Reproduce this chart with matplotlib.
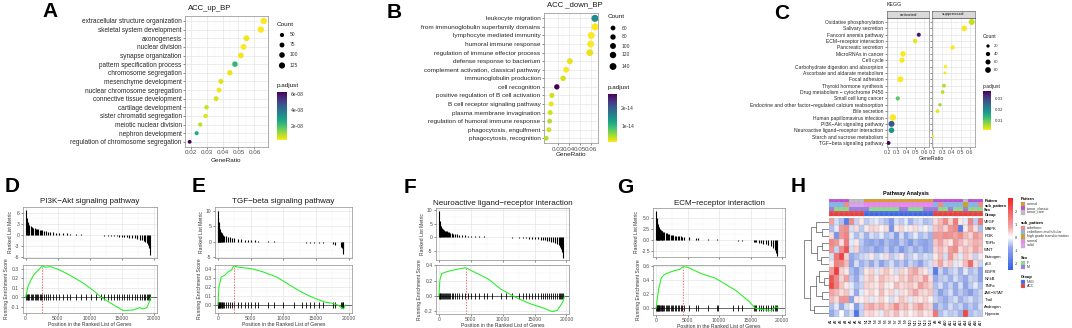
import numpy as np
import matplotlib
matplotlib.use("Agg")
import matplotlib.pyplot as plt
from matplotlib.colors import LinearSegmentedColormap, Normalize, to_rgb
from matplotlib.colorbar import ColorbarBase
from matplotlib.patches import Rectangle

plt.rcParams['font.family'] = ['Liberation Sans', 'DejaVu Sans']

# ---------------- A: ACC_up_BP ----------------
a_terms = ['extracellular structure organization', 'skeletal system development', 'axonogenesis',
           'nuclear division', 'synapse organization', 'pattern specification process',
           'chromosome segregation', 'mesenchyme development', 'nuclear chromosome segregation',
           'connective tissue development', 'cartilage development', 'sister chromatid segregation',
           'meiotic nuclear division', 'nephron development', 'regulation of chromosome segregation']
a_ratio = [0.0658, 0.0640, 0.0550, 0.0532, 0.0515, 0.0478, 0.0446, 0.0390, 0.0378, 0.0360,
           0.0300, 0.0294, 0.0260, 0.0238, 0.0194]
a_count = [140, 138, 118, 112, 105, 98, 92, 80, 76, 74, 60, 58, 50, 46, 38]
a_padj = [0.2e-8, 0.2e-8, 0.3e-8, 0.2e-8, 0.3e-8, 2.3e-8, 0.4e-8, 0.5e-8, 0.3e-8, 0.6e-8,
          0.7e-8, 0.5e-8, 0.8e-8, 2.6e-8, 6.3e-8]

# ---------------- B: ACC_down_BP ----------------
b_terms = ['leukocyte migration', 'from immunoglobulin superfamily domains', 'lymphocyte mediated immunity',
           'humoral immune response', 'regulation of immune effector process', 'defense response to bacterium',
           'complement activation, classical pathway', 'immunoglobulin production', 'cell recognition',
           'positive regulation of B cell activation', 'B cell receptor signaling pathway',
           'plasma membrane invagination', 'regulation of humoral immune response',
           'phagocytosis, engulfment', 'phagocytosis, recognition']
b_ratio = [0.0633, 0.0633, 0.0600, 0.0595, 0.0587, 0.0410, 0.0377, 0.0350, 0.0294, 0.0250,
           0.0244, 0.0235, 0.0230, 0.0224, 0.0200]
b_count = [150, 155, 145, 142, 140, 100, 95, 85, 80, 70, 68, 66, 64, 62, 58]
b_padj = [1.5e-14, 0.1e-14, 0.1e-14, 0.1e-14, 0.2e-14, 0.2e-14, 0.1e-14, 0.3e-14, 2.8e-14, 0.3e-14,
          0.2e-14, 0.3e-14, 0.4e-14, 0.3e-14, 0.4e-14]

# ---------------- C: KEGG ----------------
c_terms = ['Oxidative phosphorylation', 'Salivary secretion', 'Fanconi anemia pathway',
           'ECM\u2212receptor interaction', 'Pancreatic secretion', 'MicroRNAs in cancer', 'Cell cycle',
           'Carbohydrate digestion and absorption', 'Ascorbate and aldarate metabolism', 'Focal adhesion',
           'Thyroid hormone synthesis', 'Drug metabolism \u2212 cytochrome P450', 'Small cell lung cancer',
           'Endocrine and other factor\u2212regulated calcium reabsorption', 'Bile secretion',
           'Human papillomavirus infection', 'PI3K\u2212Akt signaling pathway',
           'Neuroactive ligand\u2212receptor interaction', 'Starch and sucrose metabolism',
           'TGF\u2212beta signaling pathway']
c_facet = ['suppressed', 'suppressed', 'activated', 'activated', 'suppressed', 'activated', 'activated',
           'suppressed', 'suppressed', 'activated', 'suppressed', 'suppressed', 'activated', 'suppressed',
           'suppressed', 'activated', 'activated', 'activated', 'suppressed', 'activated']
c_ratio = [0.62, 0.538, 0.542, 0.502, 0.413, 0.367, 0.356, 0.335, 0.330, 0.338,
           0.320, 0.305, 0.309, 0.276, 0.250, 0.255, 0.240, 0.240, 0.200, 0.207]
c_count = [90, 75, 35, 45, 40, 75, 65, 22, 14, 90, 30, 28, 38, 22, 28, 105, 90, 75, 10, 32]
c_padj = [0.004, 0.001, 0.035, 0.002, 0.001, 0.001, 0.001, 0.001, 0.001, 0.001,
          0.005, 0.005, 0.010, 0.006, 0.002, 0.001, 0.027, 0.018, 0.0008, 0.037]

# ---------------- D-G: GSEA plots ----------------
d_hits = [60, 150, 300, 450, 600, 800, 1000, 1200, 1400, 1600, 1800, 2000, 2200, 2400, 2600, 2900,
          3200, 3500, 3800, 4200, 4700, 5200, 5800, 6400, 7000, 7800, 8600, 9400, 10200, 11000, 11800,
          12300, 12800, 13300, 13800, 14200, 14600, 15000, 15400, 15800, 16200, 16600, 17000, 17400,
          17800, 18100, 18400, 18700, 18900, 19100, 19300, 19450]
d_metric = [6.6, 4.6, 3.6, 3.1, 2.8, 2.5, 2.2, 2.0, 1.9, 1.7, 1.6, 1.5, 1.4, 1.3, 1.2, 1.05,
            0.95, 0.9, 0.85, 0.75, 0.65, 0.58, 0.5, 0.42, 0.36, 0.28, 0.2, 0.12, 0.05, -0.03, -0.1,
            -0.15, -0.2, -0.25, -0.3, -0.35, -0.42, -0.5, -0.58, -0.65, -0.75, -0.85, -0.95, -1.1,
            -1.25, -1.4, -1.6, -1.85, -2.1, -2.6, -3.4, -5.5]
d_es_x = [0, 400, 800, 1300, 2000, 2600, 3100, 3900, 5000, 6500, 8000, 9000, 10600, 11800, 13000,
          14200, 15200, 16000, 16800, 17400, 17800, 18300, 18900, 19300, 19500]
d_es_y = [0, 0.12, 0.18, 0.24, 0.29, 0.333, 0.32, 0.325, 0.30, 0.25, 0.19, 0.15, 0.07, 0.0, -0.05,
          -0.10, -0.14, -0.138, -0.135, -0.12, -0.11, -0.125, -0.11, -0.05, 0.0]

e_hits = [30, 80, 130, 200, 280, 350, 450, 550, 650, 800, 1000, 1200, 1500, 1800, 2100, 2400, 3100,
          3600, 4100, 4600, 5100, 5600, 6200, 7600, 8600, 9900, 11700, 12800, 13400, 14000, 14700,
          15500, 16000, 17600, 17900, 18800, 18950, 19050, 19150]
e_metric = [10.0, 7.5, 6.3, 5.0, 4.2, 3.7, 3.2, 2.9, 2.6, 2.3, 2.0, 1.8, 1.6, 1.4, 1.25, 1.1, 0.9,
            0.78, 0.7, 0.6, 0.55, 0.5, 0.42, 0.28, 0.18, 0.05, -0.1, -0.18, -0.25, -0.3, -0.38,
            -0.45, -0.5, -0.8, -0.9, -1.6, -2.0, -2.8, -4.0]
e_es_x = [0, 150, 500, 1050, 1600, 2100, 2400, 3200, 5300, 6800, 9000, 11000, 12600, 14000, 15300,
          16500, 17400, 18300, 18900, 19200, 19500]
e_es_y = [0, 0.2, 0.31, 0.33, 0.37, 0.39, 0.433, 0.42, 0.40, 0.37, 0.31, 0.22, 0.15, 0.10, 0.06,
          0.03, 0.02, 0.0, -0.03, -0.045, 0.0]

f_hits = [40, 120, 220, 330, 450, 600, 750, 900, 1050, 1200, 1400, 1600, 1800, 2000, 2200, 2500,
          2800, 3200, 3600, 4100, 4600, 5100, 5600, 6300, 7000, 7500, 8300, 9700, 10500, 11400,
          12600, 13200, 13600, 14200, 14600, 15100, 15600, 16000, 16400, 16700, 17000, 17300, 17600,
          17900, 18200, 18500, 18800, 19000, 19200, 19350, 19480]
f_metric = [9.7, 6.0, 4.8, 4.0, 3.5, 3.0, 2.7, 2.4, 2.2, 2.1, 1.9, 1.75, 1.6, 1.45, 1.3, 1.1,
            1.0, 0.9, 0.8, 0.7, 0.6, 0.5, 0.42, 0.35, 0.25, 0.2, 0.12, -0.02, -0.1, -0.18,
            -0.3, -0.36, -0.42, -0.5, -0.55, -0.62, -0.75, -0.9, -1.05, -1.2, -1.3, -1.5, -1.7,
            -1.85, -2.1, -2.4, -3.0, -3.5, -4.5, -5.5, -7.5]
f_es_x = [0, 160, 430, 980, 1800, 2900, 4200, 6100, 7800, 9700, 11850, 14300, 16500, 17800, 18600,
          19450, 19700]
f_es_y = [0, 0.21, 0.29, 0.31, 0.33, 0.35, 0.37, 0.29, 0.22, 0.09, -0.01, -0.10, -0.16, -0.205,
          -0.185, -0.075, 0.0]

g_hits = [30, 90, 160, 240, 320, 420, 520, 620, 750, 880, 1000, 1150, 1300, 1500, 1700, 1900,
          2100, 2300, 2500, 2700, 3000, 3200, 3400, 3700, 3900, 4100, 4500, 5200, 6300, 6700, 8200,
          9600, 9800, 12200, 13000, 13600, 15500, 15700, 15900, 16300, 16600, 17000, 17400, 17800,
          18200, 18600, 18900, 19100, 19250]
g_metric = [6.7, 5.0, 4.2, 3.6, 3.2, 2.9, 2.6, 2.45, 2.3, 2.15, 2.0, 1.85, 1.75, 1.6, 1.5, 1.4,
            1.3, 1.2, 1.1, 1.05, 0.98, 0.92, 0.85, 0.8, 0.78, 0.72, 0.68, 0.58, 0.45, 0.4, 0.25,
            0.1, 0.08, -0.12, -0.2, -0.26, -0.5, -0.52, -0.56, -0.65, -0.75, -0.9, -1.05, -1.2,
            -1.4, -1.8, -2.3, -3.0, -3.8]
g_es_x = [0, 370, 800, 1330, 2130, 2930, 3730, 4270, 5070, 7200, 9330, 12530, 14670, 15730, 17330,
          18400, 18930, 19470]
g_es_y = [0, 0.26, 0.43, 0.48, 0.51, 0.535, 0.55, 0.59, 0.58, 0.49, 0.43, 0.26, 0.105, 0.0, -0.024,
          -0.03, 0.02, 0.0]

# ---------------- H: heatmap ----------------
hm_rows = ['VEGF', 'MAPK', 'PI3K', 'TGFb', 'WNT', 'Estrogen', 'p53', 'EGFR', 'NFkB', 'TNFa',
           'JAK\u2212STAT', 'Trail', 'Androgen', 'Hypoxia']
hm_cols = ['A1', 'A2', 'A3', 'A4', 'A5', 'A6', 'A7',
           'N1', 'N2', 'N3', 'N4', 'N5', 'N6', 'N7', 'N8', 'N9', 'N10', 'N11', 'N12', 'N13', 'N14',
           'A8', 'A9', 'A10', 'A11', 'A12', 'A13', 'A14', 'A15', 'A16', 'A17']
hm_values = [
    [0.8, -0.3, -0.6, -1.8, 1.2, -0.4, 0.2, -0.5, -0.3, -0.2, -0.4, -0.6, -1.0, -0.3, -0.5, -0.2, -0.7, -0.4, -0.3, -0.6, -0.5, 0.3, 0.6, 1.2, 0.4, 1.5, 0.2, -0.2, 1.3, -0.5, 1.6],
    [-0.6, -0.2, 1.0, 1.2, -0.3, 0.3, -0.5, 0.2, 0.4, 0.3, 0.1, 0.3, -1.2, 0.2, 0.4, -0.1, 0.2, 0.3, -0.2, 0.1, -0.3, 0.5, 0.7, 0.4, 1.0, 1.3, -1.8, 0.2, 0.8, 0.3, -0.6],
    [0.3, -1.2, 1.0, 1.4, -0.2, -0.6, -0.3, -0.7, -0.3, -0.5, -0.2, -0.6, -0.4, -1.0, -0.3, -0.8, -0.5, -0.2, -0.6, -0.4, -0.7, 1.0, 0.9, 1.2, 1.1, 0.8, 1.2, 0.6, 0.4, 1.0, 0.7],
    [1.3, 1.0, 0.3, 1.5, -0.2, 0.2, -0.5, -0.8, -0.9, -0.7, -1.0, -0.6, -0.8, -0.9, -0.5, -0.7, -1.1, -0.6, -0.8, -0.9, -0.7, 0.5, 0.8, 0.4, 0.2, 1.0, 0.6, 0.3, 0.5, 0.7, 0.6],
    [1.1, -0.4, 1.2, 2.2, -0.3, 0.4, -0.6, -0.7, -0.6, -1.0, -0.8, -0.5, -0.9, -0.6, -1.1, -0.7, -0.5, -0.8, -0.6, -0.9, -0.7, 0.4, 0.6, 0.3, 0.9, 1.2, 0.3, 0.6, 0.4, 0.8, 0.5],
    [-0.3, 1.6, 2.5, 0.4, -0.8, -0.6, -0.4, -0.3, 0.2, -0.4, -0.2, 0.3, -0.5, -0.3, 0.2, -0.6, -0.4, -0.2, -0.5, -0.3, -0.4, 0.2, 0.6, -0.3, 1.0, 0.4, -0.2, 0.5, 0.3, -0.4, 0.2],
    [0.2, 1.4, 1.2, 0.6, -0.9, -0.3, -0.7, -0.5, -0.8, -0.4, -0.9, -0.6, -0.3, -0.7, -0.5, -0.8, -0.4, -0.6, -0.9, -0.5, -0.3, 0.4, 0.8, 0.3, 0.5, -0.2, 0.2, 0.6, 1.8, 0.3, -0.4],
    [0.9, 2.6, 0.4, 0.2, -0.6, -0.9, -0.5, 0.2, 0.4, -0.2, 0.3, 0.5, 0.2, -0.3, 0.4, 0.2, 0.6, 0.8, 0.4, 0.2, -0.3, -1.8, -0.4, -0.8, -0.5, -0.3, -0.7, -0.2, -0.6, -0.4, -0.9],
    [2.2, 1.3, 0.4, 0.8, -0.5, -0.8, -0.3, 0.3, 0.5, 0.2, 0.6, 0.4, 0.3, 0.2, 0.5, 0.3, 0.7, 0.5, 0.4, 0.9, 0.3, -0.8, -0.5, -0.4, -0.7, -0.3, -0.6, -0.8, -0.4, -0.5, -0.9],
    [2.4, 1.4, 0.5, 0.2, -0.2, -0.6, -0.4, 0.4, 0.3, 0.2, 0.5, 0.2, 0.1, 0.6, 0.3, 0.4, 0.5, 0.3, 0.9, 0.6, 0.4, -0.6, -0.3, -0.7, -0.4, -0.8, -0.3, -0.9, -0.5, -0.2, -0.6],
    [0.8, 0.6, 0.3, 0.5, -0.2, -0.8, -0.2, 0.2, 0.4, 0.1, 0.6, 0.2, 0.4, -0.2, 0.3, 0.2, 0.5, 0.8, 0.4, 0.3, 0.5, -0.5, -0.9, -0.6, -0.3, -0.8, -0.5, -0.7, -1.0, -0.6, -0.4],
    [0.6, 0.3, 1.0, 1.0, -0.9, 0.2, 0.1, 0.3, -0.2, 0.2, 0.4, 0.1, -0.3, 0.2, 0.5, 0.3, -0.2, 0.3, 0.2, 0.4, 0.1, -0.4, -0.6, -0.8, -0.5, -0.3, -0.7, -0.5, -0.3, -0.6, -0.4],
    [-0.6, -0.2, -0.8, -0.3, -0.1, -1.0, -0.4, 0.6, 0.8, 0.5, 0.7, 0.4, 0.6, 1.2, 0.5, 0.7, 0.3, 0.6, 1.0, 0.5, 0.4, -0.9, -0.5, -0.7, -0.3, -0.6, -0.4, -0.8, -0.5, -0.7, -0.3],
    [-0.8, -0.5, 0.0, -0.6, -0.3, -2.0, -0.4, 0.3, 0.4, 0.2, -0.2, 0.5, 0.3, 0.6, 0.2, 0.4, 0.1, 0.3, 0.5, 0.2, 0.3, 1.6, -0.6, -0.3, -0.5, -0.4, -0.7, 2.4, -0.6, -0.4, -0.5],
]
pattern = (['tumor_classic'] * 4 + ['tumor_rare'] * 3 + ['normal'] * 14
           + ['tumor_classic'] * 6 + ['tumor_rare'] + ['tumor_classic'] * 3)
sub_pattern = (['cribriform and tubular'] * 3 + ['cribriform'] + ['solid'] * 3 + ['normal'] * 14
               + ['cribriform and tubular', 'cribriform', 'cribriform and tubular', 'cribriform and tubular',
                  'cribriform and tubular', 'cribriform and tubular', 'high grade transformation',
                  'cribriform and tubular', 'cribriform and tubular', 'cribriform'])
sex = ['M', 'F', 'F', 'F', 'M', 'M', 'M',
       'M', 'F', 'F', 'F', 'F', 'F', 'F', 'M', 'M', 'F', 'F', 'F', 'M', 'M',
       'M', 'F', 'F', 'M', 'F', 'F', 'M', 'F', 'F', 'F']
group = ['ACC'] * 7 + ['NSG'] * 14 + ['ACC'] * 10
# row dendrogram: (height, left, right)
hm_tree = (5.5,
           (4.0, (3.0, 'VEGF', (1.5, 'MAPK', 'PI3K')),
                 (2.8, (1.6, 'TGFb', 'WNT'), (1.8, 'Estrogen', 'p53'))),
           (4.3, (3.0, (2.2, 'EGFR', (1.2, 'NFkB', 'TNFa')), (1.5, 'JAK\u2212STAT', 'Trail')),
                 (3.3, 'Androgen', 'Hypoxia')))

ann_colors = {
    'Pattern': {'normal': '#DE9A2E', 'tumor_classic': '#C24DD6', 'tumor_rare': '#BEBEBE'},
    'sub_pattern': {'cribriform': '#F28C86', 'cribriform and tubular': '#86B6EE',
                    'high grade transformation': '#C9A41F', 'normal': '#F184F0', 'solid': '#DCA2F2'},
    'Sex': {'F': '#8CE08C', 'M': '#9B7CE0'},
    'Group': {'NSG': '#3F69E6', 'ACC': '#EE3E3E'},
}

# ---------------- figure ----------------
W, H = 1072, 328
fig = plt.figure(figsize=(W / 100, H / 100), dpi=100)
fig.patch.set_facecolor('white')
cmap_v = plt.get_cmap('viridis_r')


def px_ax(x0, y0, x1, y1):
    return fig.add_axes([x0 / W, 1 - y1 / H, (x1 - x0) / W, (y1 - y0) / H])


def gg_theme(ax, fs=4.5):
    ax.set_facecolor('white')
    for sp in ax.spines.values():
        sp.set_color('#8C8C8C')
        sp.set_linewidth(0.5)
    ax.tick_params(which='major', length=1.5, width=0.4, color='#333333', labelsize=fs, pad=1,
                   labelcolor='#4D4D4D')
    ax.tick_params(which='minor', length=0)
    ax.grid(True, which='major', color='#E3E3E3', lw=0.45)
    ax.grid(True, which='minor', color='#F1F1F1', lw=0.3)
    ax.set_axisbelow(True)


def dot_sizes(count, a0, k):
    return 0.5184 * (a0 + k * np.asarray(count, dtype=float))


def dot_panel(ax, ratio, ypos, count, padj, norm, a0, k, xlim, xticks, xlabels, fs):
    gg_theme(ax, fs)
    ax.scatter(ratio, ypos, s=dot_sizes(count, a0, k), c=padj, cmap=cmap_v, norm=norm,
               edgecolors='none', zorder=3)
    ax.set_xlim(xlim)
    ax.set_xticks(xticks)
    ax.set_xticklabels(xlabels)
    step = xticks[1] - xticks[0]
    ax.set_xticks(np.array(xticks[:-1]) + step / 2, minor=True)


def pcbar(x0, y0, x1, y1, norm, ticks, labels, fs):
    cax = px_ax(x0, y0, x1, y1)
    cb = ColorbarBase(cax, cmap=cmap_v, norm=norm, orientation='vertical')
    cb.outline.set_visible(False)
    cb.set_ticks(ticks)
    cb.set_ticklabels(labels)
    cax.tick_params(labelsize=fs, length=1.5, width=0.4, color='white', pad=1.5, labelcolor='#333333')


# --- A ---
axA = px_ax(185, 15.8, 268, 147)
nA = len(a_terms)
yA = nA - 1 - np.arange(nA)
normA = Normalize(min(a_padj), max(a_padj))
dot_panel(axA, a_ratio, yA, a_count, a_padj, normA, 4.3, 0.269, (0.0165, 0.0685),
          [0.02, 0.03, 0.04, 0.05, 0.06], ['0.02', '0.03', '0.04', '0.05', '0.06'], 4.5)
axA.set_ylim(-0.6, nA - 0.4)
axA.set_yticks(yA)
axA.set_yticklabels(a_terms, fontsize=4.7, color='#262626')
pcbar(277, 92, 287, 140, normA, [2e-8, 4e-8, 6e-8], ['2e-08', '4e-08', '6e-08'], 3.6)

# --- B ---
axB = px_ax(544, 13.2, 598, 143.4)
nB = len(b_terms)
yB = nB - 1 - np.arange(nB)
normB = Normalize(min(b_padj), max(b_padj))
dot_panel(axB, b_ratio, yB, b_count, b_padj, normB, 5.0, 0.3, (0.018, 0.066),
          [0.03, 0.04, 0.05, 0.06], ['0.03', '0.04', '0.05', '0.06'], 4.5)
axB.set_ylim(-0.6, nB - 0.4)
axB.set_yticks(yB)
axB.set_yticklabels(b_terms, fontsize=4.6, color='#262626')
pcbar(608, 94, 617, 142, normB, [1e-14, 2e-14], ['1e-14', '2e-14'], 3.6)

# --- C ---
nC = len(c_terms)
yC = nC - 1 - np.arange(nC)
normC = Normalize(min(c_padj), max(c_padj))
c_ticks = [0.2, 0.3, 0.4, 0.5, 0.6]
c_tlabels = ['0.2', '0.3', '0.4', '0.5', '0.6']
for i, (facet, x0, x1) in enumerate([('activated', 887, 929), ('suppressed', 932, 975)]):
    ax = px_ax(x0, 18.2, x1, 146.8)
    sel = [j for j in range(nC) if c_facet[j] == facet]
    dot_panel(ax, [c_ratio[j] for j in sel], [yC[j] for j in sel], [c_count[j] for j in sel],
              [c_padj[j] for j in sel], normC, 3.8, 0.36, (0.19, 0.655), c_ticks, c_tlabels, 3.8)
    ax.set_ylim(-0.6, nC - 0.4)
    ax.set_yticks(yC)
    if i == 0:
        ax.set_yticklabels(c_terms, fontsize=3.6, color='#262626')
    else:
        ax.tick_params(axis='y', labelleft=False)
    strip = px_ax(x0, 11, x1, 18)
    strip.set_facecolor('#D9D9D9')
    strip.set_xticks([])
    strip.set_yticks([])
    for sp in strip.spines.values():
        sp.set_color('#4D4D4D')
        sp.set_linewidth(0.4)
    strip.text(0.5, 0.5, facet, fontsize=3.2, color='#1A1A1A', ha='center', va='center',
               transform=strip.transAxes)
pcbar(983, 91, 991, 130, normC, [0.01, 0.02, 0.03], ['0.01', '0.02', '0.03'], 3.2)


# --- GSEA panels ---
def gsea_panel(x0, x1, top, bot, title, hits, metric, es_x, es_y, mlim, mticks, mlabels,
               eslim, esticks, eslabels):
    a1 = px_ax(x0, top[0], x1, top[1])
    a2 = px_ax(x0, bot[0], x1, bot[1])
    xt = [0, 5000, 10000, 15000, 20000]
    for ax in (a1, a2):
        gg_theme(ax, 3.6)
        ax.set_xlim(-450, 20450)
        ax.set_xticks(xt)
        ax.set_xticks([2500, 7500, 12500, 17500], minor=True)
    a1.vlines(hits, 0, metric, color='black', lw=0.8)
    a1.set_ylim(mlim)
    a1.set_yticks(mticks)
    a1.set_yticklabels(mlabels)
    a1.set_yticks(np.array(mticks[:-1]) + (mticks[1] - mticks[0]) / 2, minor=True)
    a1.tick_params(labelbottom=False)
    a1.set_ylabel('Ranked List Metric', fontsize=3.6, labelpad=1.5, color='#333333')
    a1.set_title(title, fontsize=5.8, pad=2.5, color='#1A1A1A')

    a2.axhline(0, color='#333333', lw=0.5, zorder=2)
    half = 0.06 * (eslim[1] - eslim[0])
    a2.vlines(hits, -half, half, color='black', lw=0.6, zorder=3)
    k = int(np.argmax(es_y))
    a2.vlines(es_x[k], eslim[0], es_y[k], colors='#FF3030', linestyles=(0, (2, 2)), lw=0.5, zorder=3)
    a2.plot(es_x, es_y, color='#22EE22', lw=0.75, zorder=4)
    a2.set_ylim(eslim)
    a2.set_yticks(esticks)
    a2.set_yticklabels(eslabels)
    a2.set_yticks(np.array(esticks[:-1]) + (esticks[1] - esticks[0]) / 2, minor=True)
    a2.set_xticklabels(['0', '5000', '10000', '15000', '20000'])
    a2.set_ylabel('Running Enrichment Score', fontsize=3.6, labelpad=1.5, color='#333333')
    a2.set_xlabel('Position in the Ranked List of Genes', fontsize=3.7, labelpad=0.5, color='#333333')


gsea_panel(22.7, 156.7, (206.7, 258), (265, 313), 'PI3K\u2212Akt signaling pathway',
           d_hits, d_metric, d_es_x, d_es_y, (-6.2, 7.6), [-6, -3, 0, 3, 6], ['-6', '-3', '0', '3', '6'],
           (-0.167, 0.343), [-0.1, 0.0, 0.1, 0.2, 0.3], ['-0.1', '0.0', '0.1', '0.2', '0.3'])
gsea_panel(215, 351.7, (206.7, 258), (265, 313), 'TGF\u2212beta signaling pathway',
           e_hits, e_metric, e_es_x, e_es_y, (-5.2, 11.3), [-5, 0, 5, 10], ['-5', '0', '5', '10'],
           (-0.089, 0.444), [0.0, 0.1, 0.2, 0.3, 0.4], ['0.0', '0.1', '0.2', '0.3', '0.4'])
gsea_panel(436, 569.3, (208.3, 260), (265, 314), 'Neuroactive ligand\u2212receptor interaction',
           f_hits, f_metric, f_es_x, f_es_y, (-8.4, 10.6), [-5, 0, 5, 10], ['-5', '0', '5', '10'],
           (-0.235, 0.405), [-0.2, 0.0, 0.2, 0.4], ['-0.2', '0.0', '0.2', '0.4'])
gsea_panel(653.3, 785, (208.3, 256.7), (265, 315), 'ECM\u2212receptor interaction',
           g_hits, g_metric, g_es_x, g_es_y, (-3.9, 7.3), [-2.5, 0.0, 2.5, 5.0], ['-2.5', '0.0', '2.5', '5.0'],
           (-0.095, 0.614), [0.0, 0.2, 0.4, 0.6], ['0.0', '0.2', '0.4', '0.6'])

# --- H: heatmap ---
nrow, ncol = len(hm_rows), len(hm_cols)
cmap_h = LinearSegmentedColormap.from_list(
    'bwr_ph', [(0.0, '#3560E8'), (0.3, '#8EA5EE'), (0.455, '#FFFFFF'), (0.6, '#F5A3A3'), (1.0, '#F42424')])
norm_h = Normalize(-2.5, 3.0)


def cell_grid(ax, nr, nc):
    ax.set_xticks(np.arange(nc + 1), minor=True)
    ax.set_yticks(np.arange(nr + 1), minor=True)
    ax.grid(True, which='minor', color='#A8A8A8', lw=0.25)
    ax.tick_params(which='both', length=0)
    for sp in ax.spines.values():
        sp.set_visible(False)


hm = px_ax(829, 218, 983, 317)
hm.imshow(np.array(hm_values), cmap=cmap_h, norm=norm_h, aspect='auto', interpolation='nearest',
          extent=(0, ncol, nrow, 0))
hm.set_xlim(0, ncol)
hm.set_ylim(nrow, 0)
hm.set_xticks(np.arange(ncol) + 0.5)
hm.set_xticklabels(hm_cols, rotation=90, fontsize=2.6)
hm.yaxis.tick_right()
hm.set_yticks(np.arange(nrow) + 0.5)
hm.set_yticklabels(hm_rows, fontsize=3.0)
cell_grid(hm, nrow, ncol)
hm.tick_params(pad=1)

ann_rows = [('Pattern', pattern), ('sub_pattern', sub_pattern), ('Sex', sex), ('Group', group)]
ann_rgb = np.array([[to_rgb(ann_colors[name][v]) for v in vals] for name, vals in ann_rows])
ann_ax = px_ax(829, 198.5, 983, 216.5)
ann_ax.imshow(ann_rgb, aspect='auto', interpolation='nearest', extent=(0, ncol, len(ann_rows), 0))
ann_ax.set_xlim(0, ncol)
ann_ax.set_ylim(len(ann_rows), 0)
ann_ax.set_xticks([])
ann_ax.yaxis.tick_right()
ann_ax.set_yticks(np.arange(len(ann_rows)) + 0.5)
ann_ax.set_yticklabels([n for n, _ in ann_rows], fontsize=2.8, fontweight='bold')
cell_grid(ann_ax, len(ann_rows), ncol)
ann_ax.tick_params(pad=1)

dend = px_ax(804, 218, 829, 317)


def draw_tree(ax, node):
    if isinstance(node, str):
        return hm_rows.index(node) + 0.5, 0.0
    h, left, right = node
    yl, hl = draw_tree(ax, left)
    yr, hr = draw_tree(ax, right)
    ax.plot([hl, h, h, hr], [yl, yl, yr, yr], color='#5A5A5A', lw=0.5)
    return (yl + yr) / 2, h


draw_tree(dend, hm_tree)
dend.set_xlim(hm_tree[0] * 1.02, 0)
dend.set_ylim(nrow, 0)
dend.axis('off')

hcax = px_ax(1008, 198, 1013, 270)
hcb = ColorbarBase(hcax, cmap=cmap_h, norm=norm_h, orientation='vertical')
hcb.outline.set_visible(False)
hcb.set_ticks([-2, -1, 0, 1, 2])
hcb.set_ticklabels(['-2', '-1', '0', '1', '2'])
hcax.tick_params(labelsize=2.8, length=0, pad=1.2, labelcolor='#333333')

# ---------------- overlay text / legends (pixel coordinates) ----------------
ov = fig.add_axes([0, 0, 1, 1], zorder=10)
ov.set_xlim(0, W)
ov.set_ylim(H, 0)
ov.axis('off')

for letter, x, y in [('A', 42, 2), ('B', 387, 3), ('C', 774, 4), ('D', 5, 177), ('E', 192, 177),
                     ('F', 404, 178), ('G', 617, 178), ('H', 791, 177)]:
    ov.text(x, y, letter, fontsize=15, fontweight='bold', ha='left', va='top', color='black')

ov.text(188, 8, 'ACC_up_BP', fontsize=5.6, ha='left', va='center', color='#1A1A1A')
ov.text(547, 5, 'ACC _down_BP', fontsize=5.6, ha='left', va='center', color='#1A1A1A')
ov.text(887, 4.5, 'KEGG', fontsize=3.8, ha='left', va='center', color='#1A1A1A')
ov.text(226, 160, 'GeneRatio', fontsize=4.6, ha='center', va='center', color='#1A1A1A')
ov.text(571, 155, 'GeneRatio', fontsize=4.6, ha='center', va='center', color='#1A1A1A')
ov.text(931, 158.5, 'GeneRatio', fontsize=3.8, ha='center', va='center', color='#1A1A1A')


def count_legend(x, y_title, ys, vals, a0, k, fs_t, fs_l, dx_dot, dx_lab):
    ov.text(x, y_title, 'Count', fontsize=fs_t, ha='left', va='center', color='#1A1A1A')
    ov.scatter([x + dx_dot] * len(vals), ys, s=dot_sizes(vals, a0, k), color='black',
               edgecolors='none')
    for yy, v in zip(ys, vals):
        ov.text(x + dx_lab, yy, str(v), fontsize=fs_l, ha='left', va='center', color='#333333')


count_legend(277, 24, [35, 45, 55, 65.5], [50, 75, 100, 125], 4.3, 0.269, 4.6, 3.6, 5, 13)
count_legend(608, 17, [28, 37, 46, 55, 66.5], [60, 80, 100, 120, 140], 5.0, 0.3, 4.6, 3.6, 5, 14)
count_legend(983, 37, [46, 54, 62, 70], [20, 40, 60, 80], 3.8, 0.36, 3.6, 3.0, 5, 11)
ov.text(277, 86, 'p.adjust', fontsize=4.6, ha='left', va='center', color='#1A1A1A')
ov.text(608, 88, 'p.adjust', fontsize=4.6, ha='left', va='center', color='#1A1A1A')
ov.text(983, 86.5, 'p.adjust', fontsize=3.6, ha='left', va='center', color='#1A1A1A')

ov.text(906, 193, 'Pathway Analysis', fontsize=4.0, fontweight='bold', ha='center', va='center')

legend_blocks = [('Pattern', 199, ['normal', 'tumor_classic', 'tumor_rare']),
                 ('sub_pattern', 223, ['cribriform', 'cribriform and tubular', 'high grade transformation',
                                       'normal', 'solid']),
                 ('Sex', 258, ['F', 'M']),
                 ('Group', 277, ['NSG', 'ACC'])]
for name, y0, cats in legend_blocks:
    ov.text(1020.5, y0, name, fontsize=2.9, fontweight='bold', ha='left', va='center')
    for j, cat in enumerate(cats):
        yy = y0 + 2.5 + j * 4.4
        ov.add_patch(Rectangle((1020.5, yy), 4.6, 4.4, facecolor=ann_colors[name][cat],
                               edgecolor='#A8A8A8', lw=0.2))
        ov.text(1027, yy + 2.2, cat, fontsize=2.6, ha='left', va='center', color='#333333')

fig.savefig('out.png', dpi=100, facecolor='white')
